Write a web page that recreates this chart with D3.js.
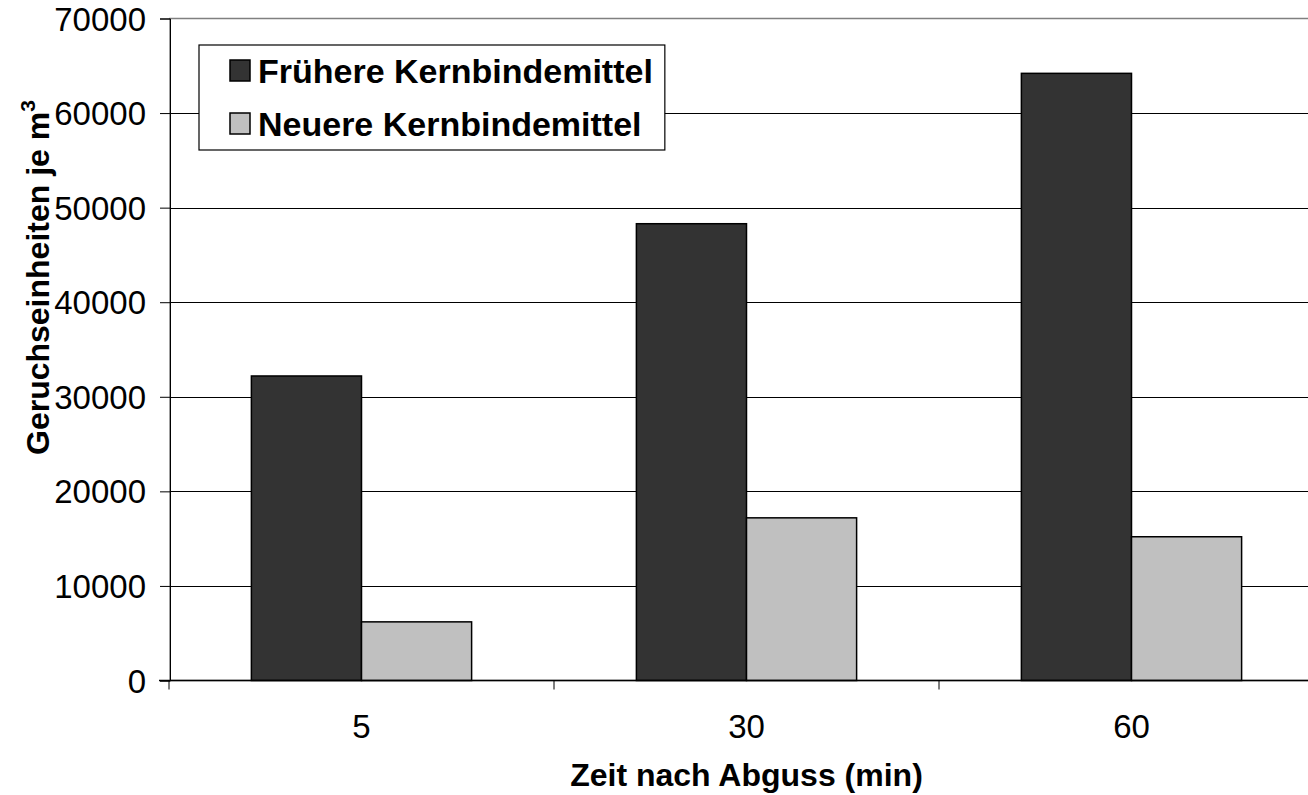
<!DOCTYPE html>
<html><head><meta charset="utf-8">
<script src="https://cdn.jsdelivr.net/npm/d3@7"></script>
<style>body{margin:0;background:#fff}svg{display:block}text{font-family:"Liberation Sans",Arial,sans-serif}</style>
</head><body>
<svg id="c" width="1308" height="795"></svg>
<script>
const categories = ["5", "30", "60"];
const seriesNames = ["Frühere Kernbindemittel", "Neuere Kernbindemittel"];
const frueher = [32200, 48300, 64200];
const neuer = [6200, 17200, 15200];
const yTicks = [0, 10000, 20000, 30000, 40000, 50000, 60000, 70000];
const colors = ["#333333", "#c0c0c0"];

const svg = d3.select("#c");
const L = 170, R = 1324, T = 18.5, B = 680.5;
const x = d3.scaleBand().domain(categories).range([169, R]);
const y = d3.scaleLinear().domain([0, 70000]).range([B, T]);
const groupFrac = 0.572;
const sub = d3.scaleBand().domain([0, 1]).range([0, x.bandwidth() * groupFrac]);
const off = (x.bandwidth() - x.bandwidth() * groupFrac) / 2;

// plot border
svg.append("rect").attr("x", L).attr("y", T).attr("width", R - L).attr("height", B - T)
  .attr("fill", "#fff").attr("stroke", "#808080").attr("stroke-width", 1.5);

// gridlines
svg.append("g").selectAll("line").data(yTicks.filter(d => d > 0 && d < 70000)).join("line")
  .attr("x1", L).attr("x2", R).attr("y1", d => Math.round(y(d)) + 0.5).attr("y2", d => Math.round(y(d)) + 0.5)
  .attr("stroke", "#000").attr("stroke-width", 1);

// bars
const data = categories.map((c, i) => ({c, v: [frueher[i], neuer[i]]}));
const g = svg.append("g");
data.forEach(d => {
  d.v.forEach((v, j) => {
    g.append("rect")
      .attr("x", x(d.c) + off + sub(j))
      .attr("y", y(v))
      .attr("width", sub.bandwidth())
      .attr("height", y(0) - y(v))
      .attr("fill", colors[j]).attr("stroke", "#000").attr("stroke-width", 1.5);
  });
});

// y axis
const yAxis = d3.axisLeft(y).tickValues(yTicks).tickSize(10).tickPadding(14).tickFormat(d3.format("d"));
const ya = svg.append("g").attr("transform", `translate(${L},0)`).call(yAxis);
ya.select(".domain").attr("stroke", "#000").attr("stroke-width", 1);
ya.selectAll("line").attr("stroke", "#000");
ya.selectAll("text").attr("font-size", 33).attr("fill", "#000").attr("font-family", '"Liberation Sans",Arial,sans-serif').attr("dy", "0.35em");

// x axis
const xa = svg.append("g").attr("transform", `translate(0,${B})`);
xa.append("line").attr("x1", 159).attr("x2", 1308).attr("y1", 0).attr("y2", 0).attr("stroke", "#000").attr("stroke-width", 1.5);
const bounds = categories.map(c => x(c)).concat([R]);
xa.selectAll("line.t").data(bounds).join("line").attr("class", "t")
  .attr("x1", d => d).attr("x2", d => d).attr("y1", 0).attr("y2", 9).attr("stroke", "#000");
xa.selectAll("text").data(categories).join("text")
  .attr("x", d => x(d) + x.bandwidth() / 2).attr("y", 57).attr("text-anchor", "middle")
  .attr("font-size", 33).attr("fill", "#000").text(d => d);

// axis titles
svg.append("text").attr("x", (169 + R) / 2).attr("y", 786).attr("text-anchor", "middle")
  .attr("font-size", 32).attr("font-weight", "bold").text("Zeit nach Abguss (min)");
const yt = svg.append("text").attr("transform", "translate(49,455) rotate(-90)")
  .attr("font-size", 32).attr("font-weight", "bold");
yt.append("tspan").text("Geruchseinheiten je m");
yt.append("tspan").attr("font-size", 21).attr("dy", -14).text("3");

// legend
const lg = svg.append("g");
const box = lg.append("rect").attr("x", 199).attr("y", 45).attr("height", 105)
  .attr("fill", "#fff").attr("stroke", "#000").attr("stroke-width", 1.2);
let maxW = 0;
seriesNames.forEach((n, i) => {
  const yy = 60 + i * 53;
  lg.append("rect").attr("x", 230).attr("y", yy).attr("width", 20).attr("height", 21)
    .attr("fill", colors[i]).attr("stroke", "#000").attr("stroke-width", 1.5);
  const t = lg.append("text").attr("x", 258).attr("y", yy + 23).attr("font-size", 34)
    .attr("font-weight", "bold").text(n);
  maxW = Math.max(maxW, t.node().getComputedTextLength());
});
box.attr("width", 258 + maxW + 12 - 199);
</script>
</body></html>
